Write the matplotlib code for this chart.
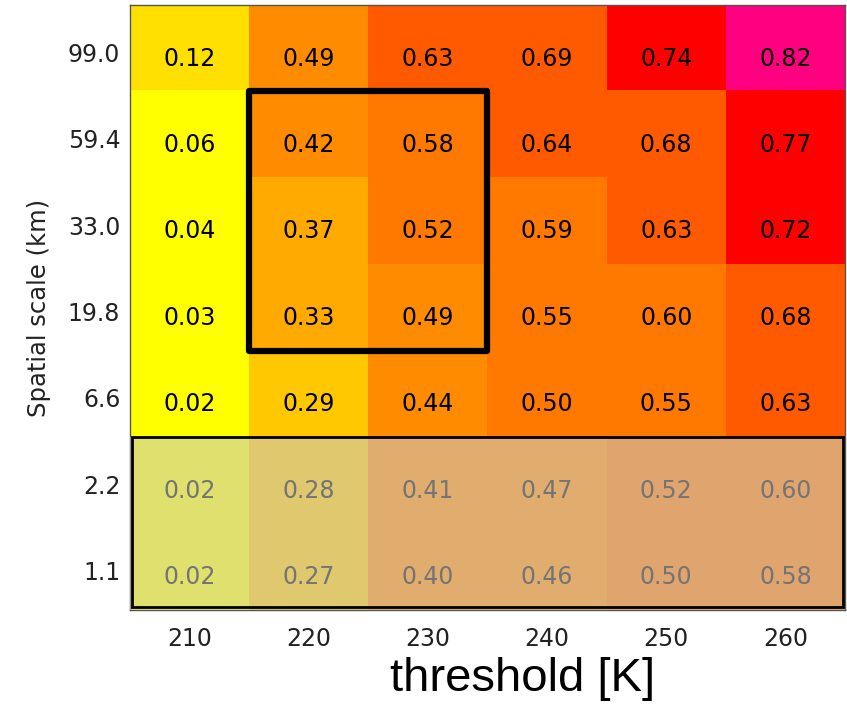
import numpy as np
import matplotlib
matplotlib.use('Agg')
import matplotlib.pyplot as plt
from matplotlib.colors import ListedColormap, BoundaryNorm
from matplotlib.transforms import ScaledTranslation
import matplotlib.patches as mpatches

# data
thresholds = [210, 220, 230, 240, 250, 260]
scales = [99.0, 59.4, 33.0, 19.8, 6.6, 2.2, 1.1]
skill = np.array([
    [0.12, 0.49, 0.63, 0.69, 0.74, 0.82],
    [0.06, 0.42, 0.58, 0.64, 0.68, 0.77],
    [0.04, 0.37, 0.52, 0.59, 0.63, 0.72],
    [0.03, 0.33, 0.49, 0.55, 0.60, 0.68],
    [0.02, 0.29, 0.44, 0.50, 0.55, 0.63],
    [0.02, 0.28, 0.41, 0.47, 0.52, 0.60],
    [0.02, 0.27, 0.40, 0.46, 0.50, 0.58],
])
levels = [0.0, 0.1, 0.2, 0.3, 0.4, 0.5, 0.605, 0.7, 0.8, 1.0]
level_colors = ['#ffff00', '#ffe000', '#ffc800', '#ffaa00', '#ff8c00',
                '#ff7800', '#ff5a00', '#ff0000', '#ff0080']
n_greyed = 2  # smallest scales, shaded out
box_cols = (1, 2)   # 220-230 K
box_rows = (1, 3)   # 59.4-19.8 km

cmap = ListedColormap(level_colors)
norm = BoundaryNorm(levels, cmap.N)

fig = plt.figure(figsize=(8.47, 7.04), dpi=100)
ax = fig.add_axes([0.1535, 0.1335, 0.8441, 0.8595])

nrow, ncol = skill.shape
ax.imshow(skill, cmap=cmap, norm=norm, aspect='auto',
          extent=(-0.5, ncol - 0.5, nrow - 0.5, -0.5), interpolation='nearest')

for i in range(nrow):
    for j in range(ncol):
        greyed = i >= nrow - n_greyed
        ax.text(j, i + 0.12, f'{skill[i, j]:.2f}', ha='center', va='center',
                fontsize=17, color='#747474' if greyed else 'black', zorder=6)

# grey veil over the smallest scales
ax.add_patch(mpatches.Rectangle((-0.5, nrow - n_greyed - 0.5), ncol, n_greyed,
                                facecolor=(200/255, 200/255, 200/255), alpha=0.56,
                                edgecolor='none', zorder=3))
ax.add_patch(mpatches.Rectangle((-0.48, nrow - n_greyed - 0.5), ncol - 0.04,
                                n_greyed - 0.03, facecolor='none',
                                edgecolor='black', lw=2, zorder=4))

# highlight box
ax.add_patch(mpatches.Rectangle((box_cols[0] - 0.5, box_rows[0] - 0.5),
                                box_cols[1] - box_cols[0] + 1,
                                box_rows[1] - box_rows[0] + 1,
                                facecolor='none', edgecolor='black', lw=4.5,
                                joinstyle='round', zorder=5))

ax.set_xticks(range(ncol))
ax.set_xticklabels([str(t) for t in thresholds])
ax.set_yticks(range(nrow))
ax.set_yticklabels([f'{s:.1f}' for s in scales])
ax.tick_params(length=0, labelsize=17, colors='#222222')
ax.tick_params(axis='x', pad=12)
ax.tick_params(axis='y', pad=7)
shift = ScaledTranslation(0, -4 / 100, fig.dpi_scale_trans)
for lab in ax.get_yticklabels():
    lab.set_transform(lab.get_transform() + shift)
for sp in ax.spines.values():
    sp.set_color('#555555')
    sp.set_linewidth(1)

ax.set_ylabel('Spatial scale (km)', fontsize=17.5, color='#222222', labelpad=12)
fig.text(523 / 847, 0.035, 'threshold [K]', ha='center', va='center',
         fontsize=34, family='Liberation Sans')

fig.savefig('out.png', dpi=100)
